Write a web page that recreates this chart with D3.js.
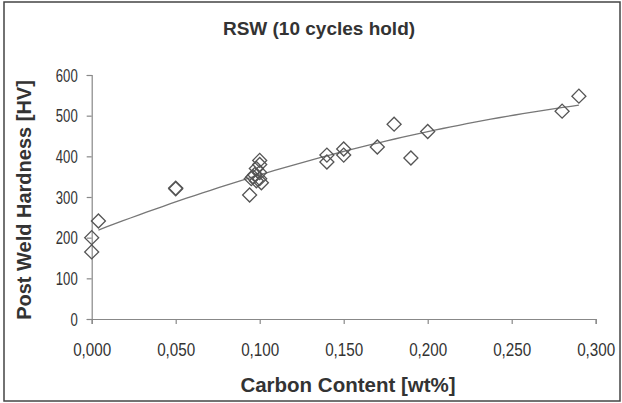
<!DOCTYPE html>
<html><head><meta charset="utf-8">
<script src="https://cdn.jsdelivr.net/npm/d3@7"></script>
<style>body{margin:0;background:#fff}svg{display:block}text{font-family:"Liberation Sans",Arial,sans-serif;fill:#333}</style>
</head><body>
<svg id="c" width="622" height="403"></svg>
<script>
const title = "RSW (10 cycles hold)";
const xTitle = "Carbon Content [wt%]";
const yTitle = "Post Weld Hardness [HV]";
const xTicks = [0, 0.05, 0.10, 0.15, 0.20, 0.25, 0.30];
const yTicks = [0, 100, 200, 300, 400, 500, 600];
const carbon = [0.000, 0.000, 0.004, 0.050, 0.050, 0.094, 0.095, 0.096, 0.097, 0.098, 0.098, 0.100, 0.100, 0.100, 0.100, 0.101,
                0.140, 0.140, 0.150, 0.150, 0.170, 0.180, 0.190, 0.200, 0.280, 0.290];
const hardness = [200, 165, 241, 320, 322, 305, 345, 350, 355, 340, 370, 360, 380, 390, 345, 335,
                  403, 386, 418, 403, 423, 479, 396, 461, 511, 548];

const svg = d3.select("#c");
const x = d3.scaleLinear().domain([0, 0.30]).range([91.7, 595.7]);
const y = d3.scaleLinear().domain([0, 600]).range([319, 75]);

svg.append("rect").attr("x", 4).attr("y", 2).attr("width", 616).attr("height", 399)
  .attr("fill", "#fff").attr("stroke", "#444").attr("stroke-width", 1.5);

svg.append("text").attr("x", 319).attr("y", 35).attr("text-anchor", "middle")
  .style("font-weight", "bold").style("font-size", "19px").text(title);

const fmt = d => d3.format(".3f")(d).replace(".", ",");
const gx = svg.append("g").attr("transform", `translate(0,${y(0)})`)
  .call(d3.axisBottom(x).tickValues(xTicks).tickFormat(fmt).tickSize(5));
const gy = svg.append("g").attr("transform", `translate(${x(0)},0)`)
  .call(d3.axisLeft(y).tickValues(yTicks).tickSize(5));
[gx, gy].forEach(g => {
  g.select(".domain").attr("stroke", "#888").attr("stroke-width", 1.2);
  g.selectAll(".tick line").attr("stroke", "#888").attr("stroke-width", 1.2);
  g.selectAll(".tick text").style("font-size", "17.5px").style("font-family", '"Liberation Sans",Arial,sans-serif')
    .attr("fill", "#333").attr("x", null).attr("y", null).attr("dy", null);
});
gx.selectAll(".tick text").attr("transform", "translate(0,37) scale(0.87,1)");
gy.selectAll(".tick text").attr("transform", "translate(-14,6) scale(0.75,1)");

svg.append("text").attr("x", 348).attr("y", 392).attr("text-anchor", "middle")
  .style("font-weight", "bold").style("font-size", "20.5px").text(xTitle);
svg.append("text").attr("transform", "translate(31,200) rotate(-90)").attr("text-anchor", "middle")
  .style("font-weight", "bold").style("font-size", "20px").text(yTitle);

// quadratic least-squares trendline from the data
const pts = carbon.map((c, i) => [c, hardness[i]]);
let S = [0,0,0,0,0], T = [0,0,0];
pts.forEach(([c, h]) => { for (let k = 0; k < 5; k++) S[k] += c ** k; for (let k = 0; k < 3; k++) T[k] += h * c ** k; });
const M = [[S[0],S[1],S[2],T[0]],[S[1],S[2],S[3],T[1]],[S[2],S[3],S[4],T[2]]];
for (let i = 0; i < 3; i++) { for (let j = i + 1; j < 3; j++) { const f = M[j][i] / M[i][i]; for (let k = i; k < 4; k++) M[j][k] -= f * M[i][k]; } }
const coef = [0,0,0];
for (let i = 2; i >= 0; i--) { let s = M[i][3]; for (let k = i + 1; k < 3; k++) s -= M[i][k] * coef[k]; coef[i] = s / M[i][i]; }
const xs = d3.extent(carbon.filter(c => c > 0));
const trend = d3.range(0, 61).map(i => { const c = xs[0] + (xs[1] - xs[0]) * i / 60; return [c, coef[0] + coef[1] * c + coef[2] * c * c]; });
svg.append("path").datum(trend).attr("fill", "none").attr("stroke", "#777").attr("stroke-width", 1.3)
  .attr("d", d3.line().x(d => x(d[0])).y(d => y(d[1])));

const sym = d3.symbol().type(d3.symbolSquare).size(98);
svg.append("g").selectAll("path").data(pts).join("path")
  .attr("d", sym).attr("transform", d => `translate(${x(d[0])},${y(d[1])}) rotate(45)`)
  .attr("fill", "none").attr("stroke", "#555").attr("stroke-width", 1.3);
</script>
</body></html>
